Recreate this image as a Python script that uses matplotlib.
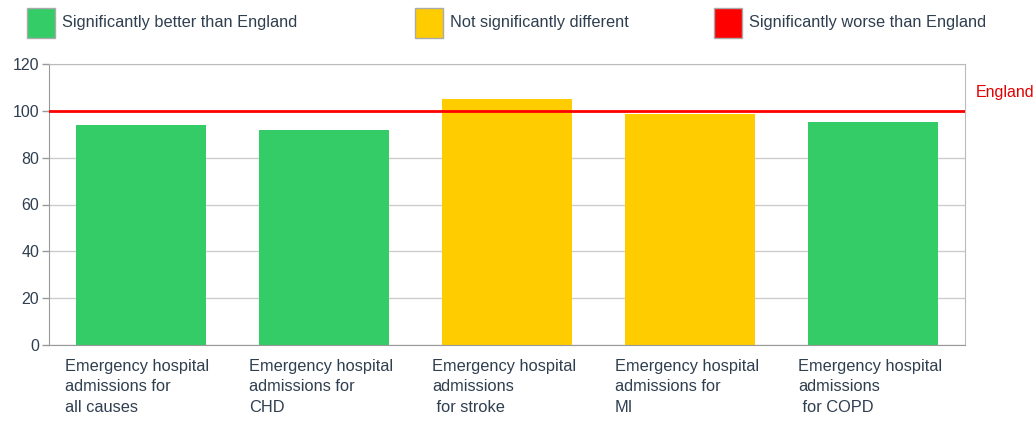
import matplotlib
matplotlib.use('Agg')
import matplotlib.pyplot as plt
from matplotlib.patches import Rectangle

categories = [
    'Emergency hospital\nadmissions for\nall causes',
    'Emergency hospital\nadmissions for\nCHD',
    'Emergency hospital\nadmissions\n for stroke',
    'Emergency hospital\nadmissions for\nMI',
    'Emergency hospital\nadmissions\n for COPD',
]
values = [93.8, 91.8, 105.0, 98.6, 95.2]
status = ['better', 'better', 'similar', 'similar', 'better']
england_value = 100
y_ticks = [0, 20, 40, 60, 80, 100, 120]

colours = {'better': '#33cc66', 'similar': '#ffcc00', 'worse': '#ff0000'}
legend_labels = [('better', 'Significantly better than England'),
                 ('similar', 'Not significantly different'),
                 ('worse', 'Significantly worse than England')]

text_colour = '#2f3f4f'
fs = 11.8
plt.rcParams['font.family'] = ['Liberation Sans', 'DejaVu Sans']

fig = plt.figure(figsize=(10.35, 4.21), dpi=100)
ax = fig.add_axes([49 / 1035, 76 / 421, 916 / 1035, 281 / 421])

x = list(range(len(values)))
ax.bar(x, values, width=0.71, color=[colours[s] for s in status], zorder=2)
ax.axhline(england_value, color='#ff0000', lw=2, zorder=3)
ax.text(1.012, england_value + 8, 'England', transform=ax.get_yaxis_transform(),
        color='#e00000', fontsize=11.5, va='center', ha='left')

ax.set_xlim(-0.5, len(values) - 0.5)
ax.set_ylim(0, 120)
ax.set_yticks(y_ticks)
ax.set_xticks([])
ax.tick_params(axis='y', colors='#999999', labelcolor=text_colour,
               labelsize=11.5, length=5, width=1, pad=2)
ax.grid(axis='y', color='#cccccc', lw=1, zorder=0)
for sp in ax.spines.values():
    sp.set_color('#bbbbbb')
ax.spines['left'].set_color('#999999')
ax.spines['bottom'].set_color('#999999')

for i, lab in enumerate(categories):
    ax.text(i - 0.41, -6.0, lab, transform=ax.transData, ha='left', va='top',
            fontsize=fs, color=text_colour, linespacing=1.45)

# legend along the top
box_x = [27, 415, 714]
for (key, lab), bx in zip(legend_labels, box_x):
    fig.patches.append(Rectangle((bx / 1035, 1 - 38 / 421), 28 / 1035, 30 / 421,
                                 transform=fig.transFigure, facecolor=colours[key],
                                 edgecolor='#aaaaaa', lw=1))
    fig.text((bx + 35) / 1035, 1 - 23 / 421, lab, fontsize=fs,
             color=text_colour, va='center', ha='left')

fig.savefig('out.png', dpi=100)
